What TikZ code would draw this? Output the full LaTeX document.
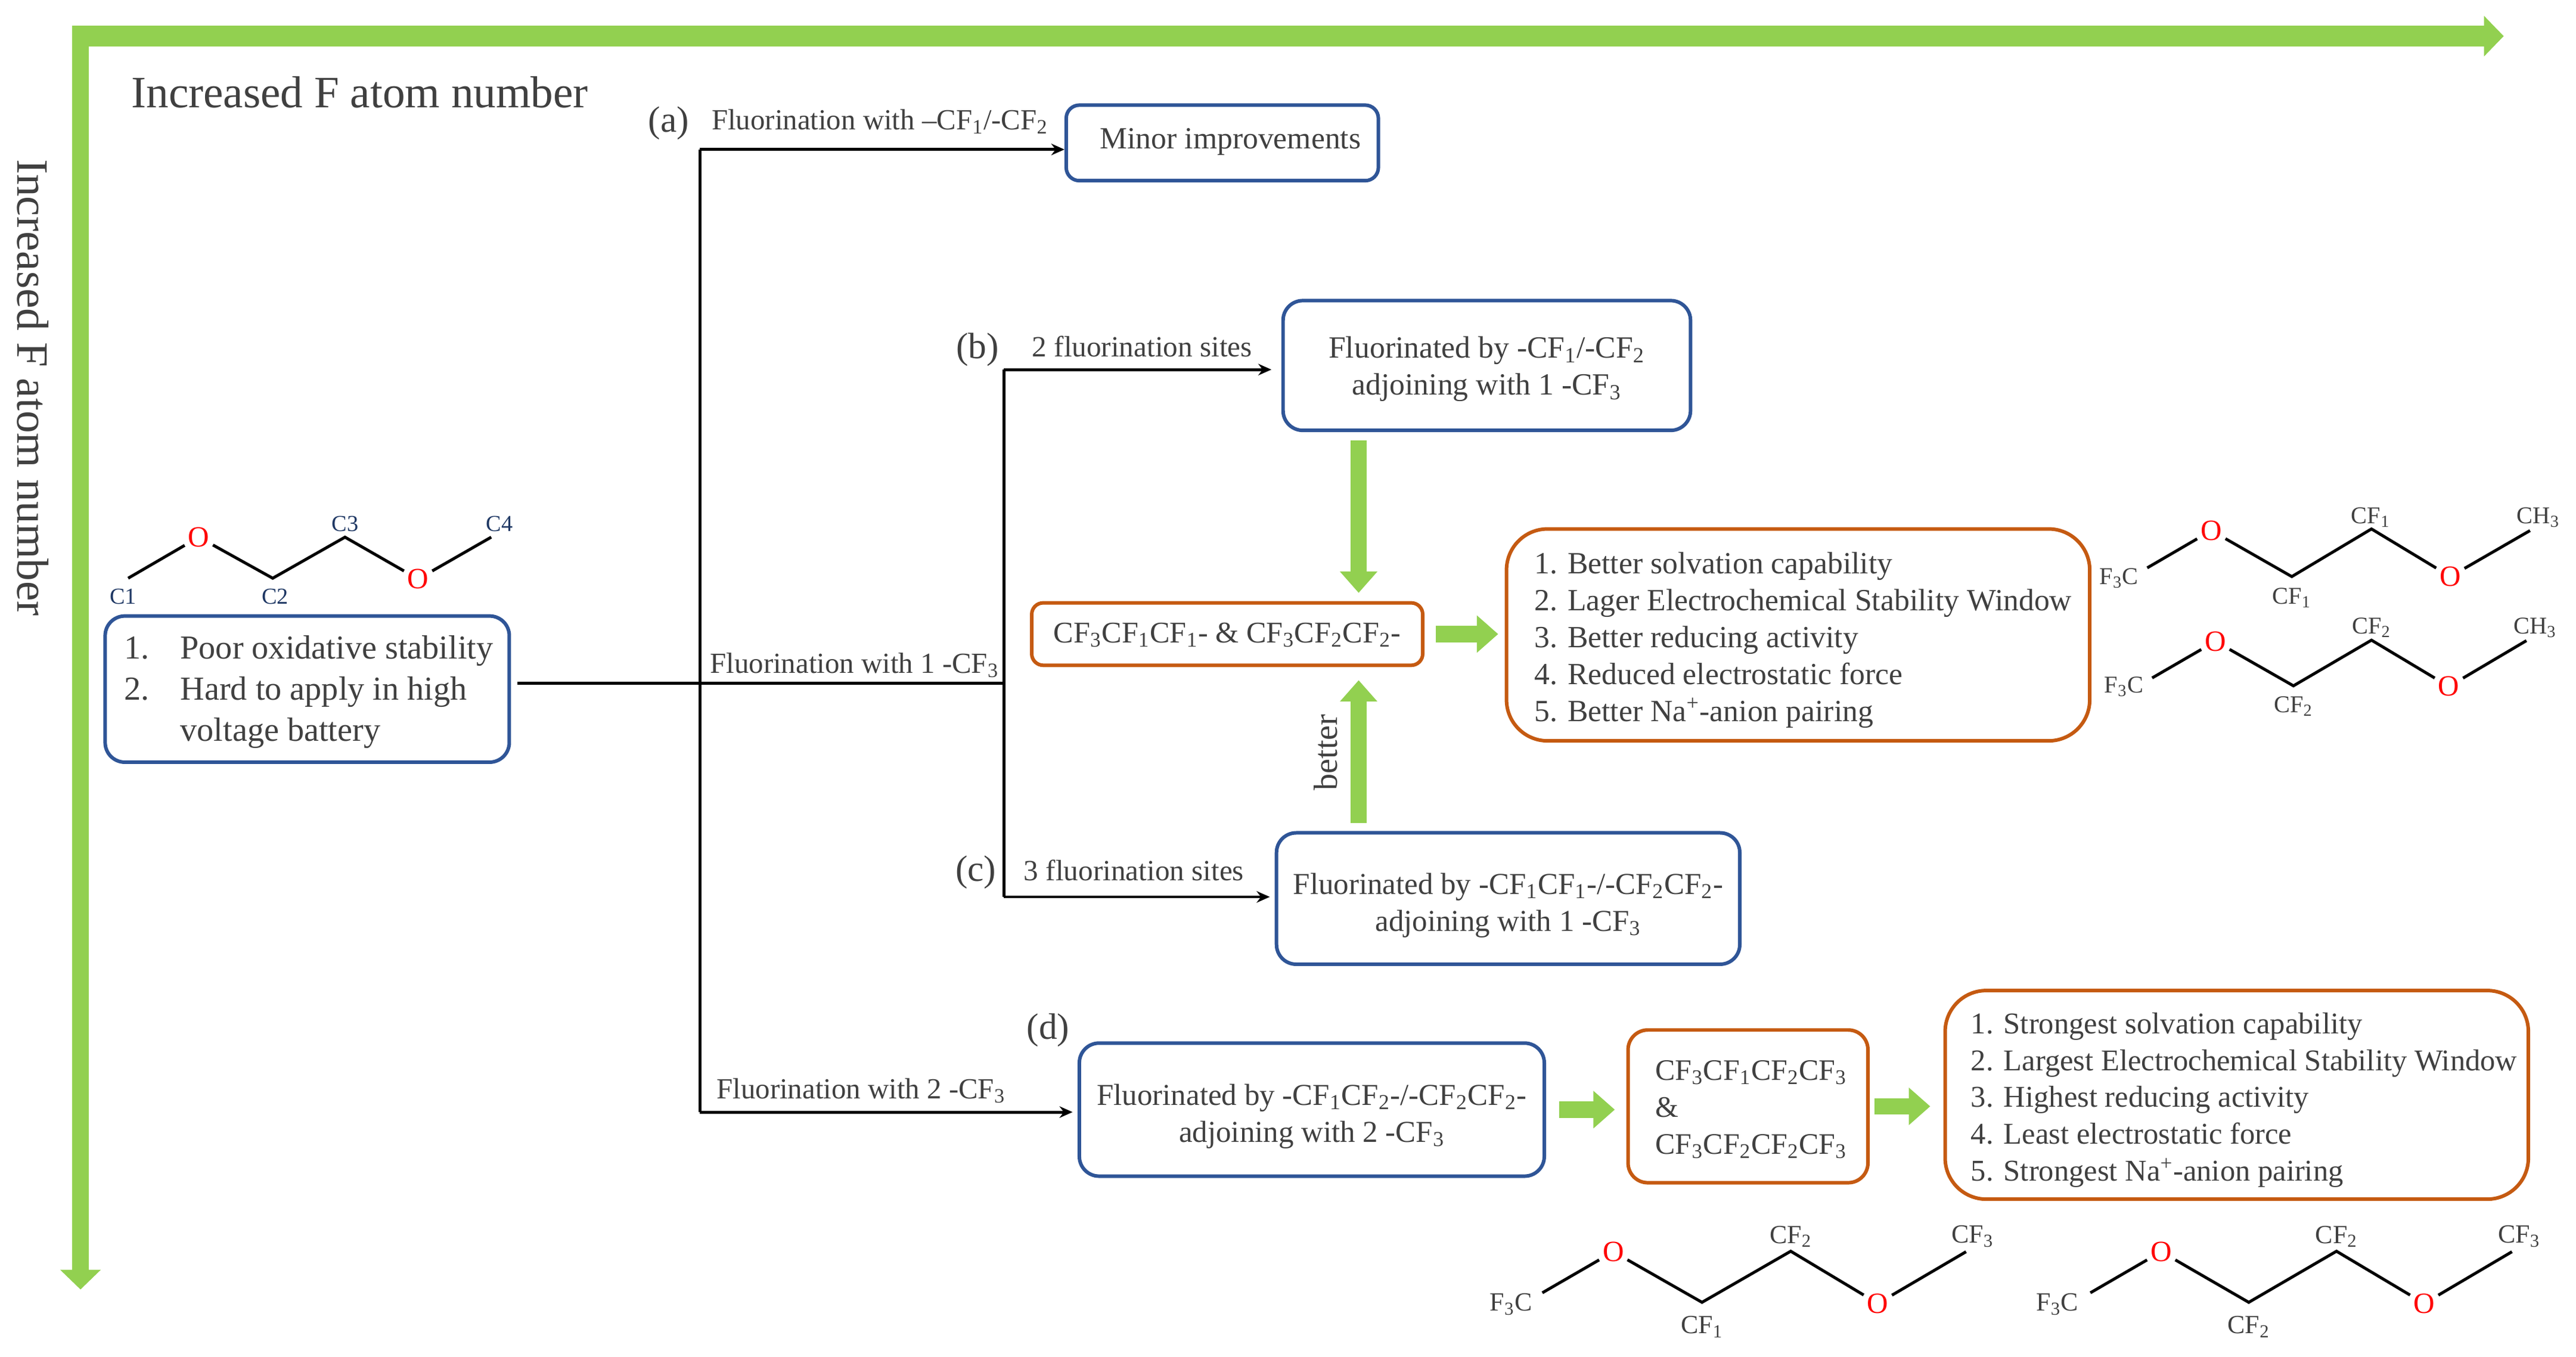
\documentclass[tikz,border=0pt]{standalone}
\usepackage{fontspec}
\setmainfont{Liberation Serif}
\usetikzlibrary{arrows.meta}
\definecolor{barGreen}{HTML}{92D050}
\definecolor{boxBlue}{HTML}{2F5597}
\definecolor{boxOrange}{HTML}{C55A11}
\definecolor{inkGray}{HTML}{404040}
\definecolor{atomNavy}{HTML}{1F3864}
\def\px{0.2756mm}
\newcommand{\sbs}[1]{\textsubscript{#1}}
% side push, lift, columns, rows
\newcommand{\boxtext}[4][c]{\hspace*{#2pt}\raisebox{\dimexpr #3pt-0.25em\relax}[0pt][0pt]{\begin{tabular}{@{}#1@{}}#4\end{tabular}}}
\tikzset{
    bodyfont/.style={text=inkGray,font=\fontsize{14.7}{17.6}\selectfont},
    bluebox/.style={draw=boxBlue,line width=1.7pt,rounded corners=12*\px,fill=white,bodyfont,inner sep=0pt},
    orangebox/.style={draw=boxOrange,line width=1.7pt,rounded corners=12*\px,fill=white,bodyfont,inner sep=0pt},
    tree/.style={line width=1.4pt,black},
    treearrow/.style={tree,-{Stealth[length=8*\px,width=7*\px]}},
    axisarrow/.style={draw=barGreen,-{Triangle[length=12*\px,width=24*\px]}},
    greenarrow/.style={draw=barGreen,line width=10*\px,-{Triangle[length=13*\px,width=22*\px]}},
    sitelabel/.style={text=inkGray,anchor=west,inner sep=0pt,font=\fontsize{13.9}{16}\selectfont},
    letterlabel/.style={text=inkGray,inner sep=0pt,font=\fontsize{17.5}{20}\selectfont},
    oatom/.style={text=red,inner sep=1.5pt,font=\fontsize{14}{15}\selectfont},
    group/.style={text=inkGray,inner sep=0pt,font=\fontsize{11.5}{13}\selectfont},
    biggroup/.style={text=inkGray,inner sep=0pt,font=\fontsize{12.5}{14}\selectfont},
    carbon/.style={text=atomNavy,inner sep=0pt,font=\fontsize{10.9}{13}\selectfont},
    bond/.style={line width=1.4pt,black},
}
\begin{document}
\begin{tikzpicture}[x=\px,y=-\px]
    \useasboundingbox (0,0) rectangle (1568,825.8);
    % Axes
    \coordinate (xstart) at (44,22);
    \coordinate (xend) at (1524,22);
    \coordinate (ystart) at (49,16);
    \coordinate (yend) at (49,785);
    \draw[axisarrow,line width=12.7*\px] (xstart) -- (xend);
    \draw[axisarrow,line width=10*\px] (ystart) -- (yend);
    \node[text=inkGray,inner sep=0pt,font=\fontsize{21.4}{25}\selectfont] (xtitle) at (219,56) {Increased F atom number};
    \node[text=inkGray,inner sep=0pt,rotate=-90,font=\fontsize{21.4}{25}\selectfont] (ytitle) at (20,236) {Increased F atom number};
    % Boxes
    \node[bluebox,minimum width=246*\px,minimum height=89*\px,font=\fontsize{16}{19.6}\selectfont] (start) at (187,419.5) {%
        \boxtext[l@{\hspace{14.7pt}}l]{1.5}{-1.6}{
            1. & Poor oxidative stability\\
            2. & Hard to apply in high\\
               & voltage battery
        }};
    \node[bluebox,rounded corners=8*\px,minimum width=190*\px,minimum height=46*\px] (minor) at (744,87) {\boxtext{7.8}{0.8}{Minor improvements}};
    \node[bluebox,minimum width=248*\px,minimum height=79*\px] (siteb) at (905,222.5) {\boxtext{0}{-1.6}{Fluorinated by -CF\sbs{1}/-CF\sbs{2}\\adjoining with 1 -CF\sbs{3}}};
    \node[bluebox,minimum width=282*\px,minimum height=80*\px,font=\fontsize{14.5}{17.6}\selectfont] (sitec) at (918,547) {\boxtext{0}{-3.1}{Fluorinated by -CF\sbs{1}CF\sbs{1}-/-CF\sbs{2}CF\sbs{2}-\\adjoining with 1 -CF\sbs{3}}};
    \node[bluebox,minimum width=283*\px,minimum height=81*\px,font=\fontsize{14.5}{17.6}\selectfont] (sited) at (798.5,675.5) {\boxtext{0}{-3.1}{Fluorinated by -CF\sbs{1}CF\sbs{2}-/-CF\sbs{2}CF\sbs{2}-\\adjoining with 2 -CF\sbs{3}}};
    \node[orangebox,rounded corners=7*\px,minimum width=238*\px,minimum height=38*\px,font=\fontsize{14.3}{17.6}\selectfont] (mixone) at (747,386) {\boxtext{0}{-0.6}{CF\sbs{3}CF\sbs{1}CF\sbs{1}- \& CF\sbs{3}CF\sbs{2}CF\sbs{2}-}};
    \node[orangebox,minimum width=146*\px,minimum height=93*\px,font=\fontsize{14.2}{17.6}\selectfont] (mixtwo) at (1064,673.5) {\boxtext[l]{3}{-1.6}{CF\sbs{3}CF\sbs{1}CF\sbs{2}CF\sbs{3}\\\&\\CF\sbs{3}CF\sbs{2}CF\sbs{2}CF\sbs{3}}};
    \node[orangebox,rounded corners=25*\px,minimum width=355*\px,minimum height=129*\px] (resone) at (1094.5,386.5) {\boxtext[l]{4.7}{-2.4}{1. Better solvation capability\\2. Lager Electrochemical Stability Window\\3. Better reducing activity\\4. Reduced electrostatic force\\5. Better Na\textsuperscript{+}-anion pairing}};
    \node[orangebox,rounded corners=25*\px,minimum width=355*\px,minimum height=127*\px,font=\fontsize{14.4}{17.6}\selectfont] (restwo) at (1361.5,666.5) {\boxtext[l]{7}{-2.4}{1. Strongest solvation capability\\2. Largest Electrochemical Stability Window\\3. Highest reducing activity\\4. Least electrostatic force\\5. Strongest Na\textsuperscript{+}-anion pairing}};
    % Tree
    \coordinate (stem) at (315,416);
    \coordinate (forka) at (426,91);
    \coordinate (forkm) at (426,416);
    \coordinate (forkd) at (426,677);
    \coordinate (branchb) at (611,225);
    \coordinate (branchm) at (611,416);
    \coordinate (branchc) at (611,546);
    \draw[tree] (stem) -- (branchm);
    \draw[tree] (forka) -- (forkd);
    \draw[tree] (branchb) -- (branchc);
    \draw[treearrow] (forka) -- (forka -| minor.west);
    \draw[treearrow,shorten >=3*\px] (forkd) -- (forkd -| sited.west);
    \draw[treearrow,shorten >=6*\px] (branchb) -- (branchb -| siteb.west);
    \draw[treearrow,shorten >=3*\px] (branchc) -- (branchc -| sitec.west);
    % Tree labels
    \node[letterlabel] (la) at (407,75) {(a)};
    \node[letterlabel] (lb) at (595,213) {(b)};
    \node[letterlabel] (lc) at (594,531) {(c)};
    \node[letterlabel] (ld) at (638,627) {(d)};
    \node[sitelabel] (ta) at (433,74) {Fluorination with –CF\sbs{1}/-CF\sbs{2}};
    \node[sitelabel,font=\fontsize{14}{16}\selectfont] (tb) at (628,211) {2 fluorination sites};
    \node[sitelabel] (tm) at (432,405) {Fluorination with 1 -CF\sbs{3}};
    \node[sitelabel,font=\fontsize{14}{16}\selectfont] (tc) at (623,530) {3 fluorination sites};
    \node[sitelabel] (td) at (436,664) {Fluorination with 2 -CF\sbs{3}};
    % Green arrows
    \coordinate (downup) at (827,300);
    \draw[greenarrow,shorten <=5*\px,shorten >=5*\px] (siteb.south -| downup) -- (mixone.north -| downup);
    \draw[greenarrow,shorten <=5*\px,shorten >=8*\px] (sitec.north -| downup) -- (mixone.south -| downup);
    \draw[greenarrow,shorten <=7*\px,shorten >=4*\px] (mixone.east) -- (resone.west |- mixone.east);
    \draw[greenarrow,shorten <=8*\px,shorten >=7*\px] (sited.east) -- (mixtwo.west |- sited.east);
    \draw[greenarrow,shorten <=3*\px,shorten >=8*\px] (mixtwo.east) -- (restwo.west |- mixtwo.east);
    \node[text=inkGray,inner sep=0pt,rotate=90,font=\fontsize{16}{18}\selectfont] (better) at (807,458) {better};
    % Molecule C1-C4
    \coordinate (ma) at (78,352);
    \node[oatom] (moa) at (121,327) {O};
    \coordinate (mb) at (166,352);
    \coordinate (mc) at (210,327);
    \node[oatom] (mob) at (254.5,352.5) {O};
    \coordinate (md) at (299,327);
    \draw[bond] (ma) -- (moa) -- (mb) -- (mc) -- (mob) -- (md);
    \node[carbon] (cone) at (75,363) {C1};
    \node[carbon] (ctwo) at (167.5,363) {C2};
    \node[carbon] (cthree) at (210,319) {C3};
    \node[carbon] (cfour) at (304,319) {C4};
    % Molecule CF1 with CH3
    \coordinate (na) at (1307,345.7);
    \node[oatom] (noa) at (1346,323) {O};
    \coordinate (nb) at (1395,351);
    \coordinate (nc) at (1443.5,322);
    \node[oatom] (nob) at (1491.5,351) {O};
    \coordinate (nd) at (1540,323);
    \draw[bond] (na) -- (noa) -- (nb) -- (nc) -- (nob) -- (nd);
    \node[group] (nla) at (1289.8,352) {F\sbs{3}C};
    \node[group] (nlb) at (1395,364) {CF\sbs{1}};
    \node[group] (nlc) at (1443,315) {CF\sbs{1}};
    \node[group] (nld) at (1545,315) {CH\sbs{3}};
    % Molecule CF2 with CH3
    \coordinate (pa) at (1310,412.7);
    \node[oatom] (poa) at (1348.5,390.4) {O};
    \coordinate (pb) at (1396,417.5);
    \coordinate (pc) at (1443.5,389.7);
    \node[oatom] (pob) at (1490.6,417.9) {O};
    \coordinate (pd) at (1537.8,390);
    \draw[bond] (pa) -- (poa) -- (pb) -- (pc) -- (pob) -- (pd);
    \node[group] (pla) at (1292.8,418) {F\sbs{3}C};
    \node[group] (plb) at (1396,430) {CF\sbs{2}};
    \node[group] (plc) at (1443.5,382) {CF\sbs{2}};
    \node[group] (pld) at (1543,382) {CH\sbs{3}};
    % Molecule CF1/CF2 with CF3
    \coordinate (qa) at (938.8,787);
    \node[oatom] (qoa) at (982,762) {O};
    \coordinate (qb) at (1036,792.8);
    \coordinate (qc) at (1090,761.7);
    \node[oatom] (qob) at (1143,793.5) {O};
    \coordinate (qd) at (1196.7,762);
    \draw[bond] (qa) -- (qoa) -- (qb) -- (qc) -- (qob) -- (qd);
    \node[biggroup] (qla) at (919.7,794) {F\sbs{3}C};
    \node[biggroup] (qlb) at (1036,807.7) {CF\sbs{1}};
    \node[biggroup] (qlc) at (1090,752.7) {CF\sbs{2}};
    \node[biggroup] (qld) at (1200.7,752.7) {CF\sbs{3}};
    % Molecule CF2/CF2 with CF3
    \coordinate (ra) at (1272.4,787);
    \node[oatom] (roa) at (1315.5,762) {O};
    \coordinate (rb) at (1368.8,792.8);
    \coordinate (rc) at (1422.2,761.7);
    \node[oatom] (rob) at (1475.6,793.5) {O};
    \coordinate (rd) at (1529,762);
    \draw[bond] (ra) -- (roa) -- (rb) -- (rc) -- (rob) -- (rd);
    \node[biggroup] (rla) at (1252.3,794) {F\sbs{3}C};
    \node[biggroup] (rlb) at (1368.8,807.7) {CF\sbs{2}};
    \node[biggroup] (rlc) at (1422.2,752.7) {CF\sbs{2}};
    \node[biggroup] (rld) at (1533.4,752.7) {CF\sbs{3}};
\end{tikzpicture}
\end{document}
